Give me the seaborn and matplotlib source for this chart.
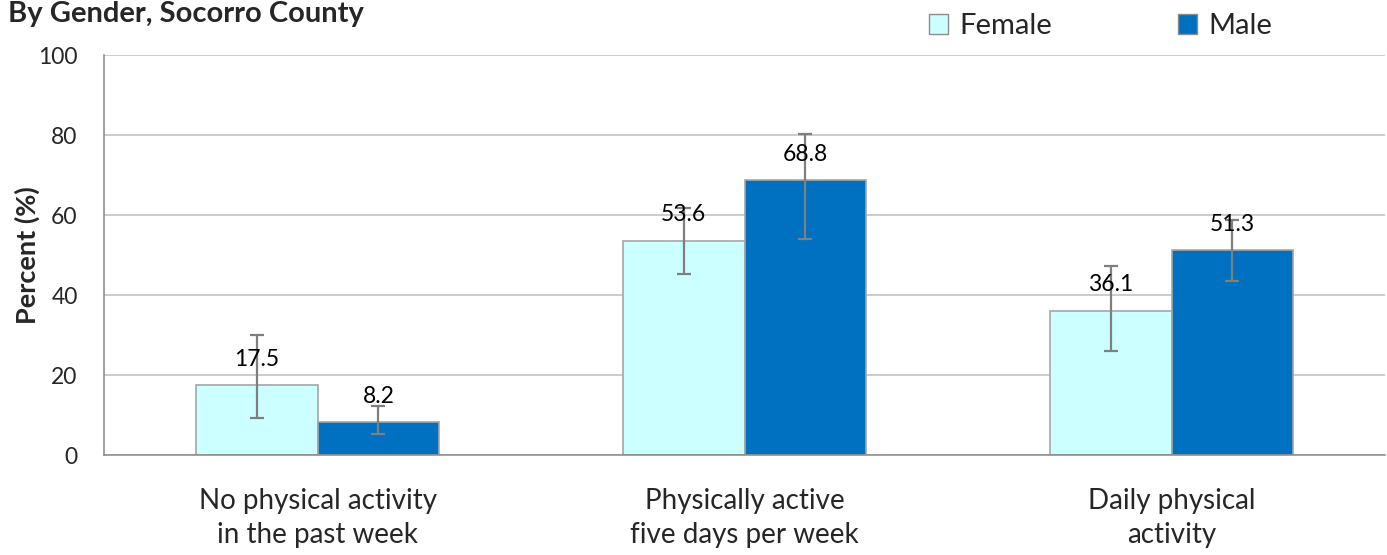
import numpy as np
import pandas as pd
import matplotlib
matplotlib.use("Agg")
import matplotlib.pyplot as plt
import seaborn as sns
from matplotlib.patches import Patch
from matplotlib.ticker import FixedLocator

categories = ["No physical activity\nin the past week",
              "Physically active\nfive days per week",
              "Daily physical\nactivity"]
female = [17.5, 53.6, 36.1]
male = [8.2, 68.8, 51.3]
female_lo = [9.4, 45.3, 26.1]
female_hi = [30.1, 61.7, 47.3]
male_lo = [5.3, 54.0, 43.5]
male_hi = [12.3, 80.4, 58.9]
genders = ["Female", "Male"]
colors = {"Female": "#CCFFFF", "Male": "#0070C0"}

sns.set_style("white")
plt.rcParams["font.family"] = ["Lato", "DejaVu Sans"]

df = pd.DataFrame({
    "category": categories * 2,
    "gender": ["Female"] * 3 + ["Male"] * 3,
    "value": female + male,
    "lo": female_lo + male_lo,
    "hi": female_hi + male_hi,
})

fig = plt.figure(figsize=(13.87, 5.55), dpi=100)
ax = fig.add_axes([0.075, 0.18, 0.9236, 0.7207])

sns.barplot(data=df, x="category", y="value", hue="gender", order=categories,
            hue_order=genders, palette=colors, saturation=1, width=0.57, gap=0,
            edgecolor="#A6A6A6", linewidth=1.2, errorbar=None, legend=False, ax=ax)

# error bars and labels, matched to seaborn's bars
for g_i, g in enumerate(genders):
    cont = ax.containers[g_i]
    sub = df[df.gender == g].set_index("category").loc[categories]
    for bar, (_, row) in zip(cont.patches, sub.iterrows()):
        cx = bar.get_x() + bar.get_width() / 2
        ax.errorbar(cx, row.value,
                    yerr=[[row.value - row.lo], [row.hi - row.value]],
                    fmt="none", ecolor="#7F7F7F", elinewidth=1.6, capsize=5,
                    capthick=1.6, zorder=4)
        ax.annotate(f"{row.value:.1f}", (cx, row.value), xytext=(0, 11),
                    textcoords="offset points", ha="center", va="bottom",
                    fontsize=16.5, color="black", zorder=5)

ax.set_ylim(0, 100)
ax.set_xlim(-0.5, 2.5)
ax.set_yticks([0, 20, 40, 60, 80, 100])
ax.yaxis.grid(True, color="#BFBFBF", linewidth=1.1)
ax.set_axisbelow(True)
ax.set_xlabel("")
ax.set_ylabel("Percent (%)", fontsize=19.5, fontweight="bold", labelpad=-1)

ax.set_xticks([0, 1, 2])
ax.set_xticklabels(categories, fontsize=20, linespacing=1.38)
ax.xaxis.set_minor_locator(FixedLocator([-0.5, 0.5, 1.5, 2.5]))
ax.tick_params(axis="x", which="major", length=0, pad=24)
ax.tick_params(axis="x", which="minor", length=8, width=1, color="#888888", direction="out")
ax.tick_params(axis="y", length=7, width=1, color="#888888", direction="out",
               labelsize=16.5, pad=12)

for side in ["top", "right"]:
    ax.spines[side].set_visible(False)
for side in ["left", "bottom"]:
    ax.spines[side].set_color("#888888")
    ax.spines[side].set_linewidth(1.1)

fig.text(0.006, 0.999, "By Gender, Socorro County", fontsize=21,
         fontweight="bold", va="top", ha="left")

handles = [Patch(facecolor=colors[g], edgecolor="#8C8C8C", label=g) for g in genders]
fig.legend(handles=handles, loc="center left", bbox_to_anchor=(0.651, 0.953),
           ncol=2, frameon=False, fontsize=21, handlelength=0.65,
           handleheight=0.65, handletextpad=0.4, columnspacing=4.3)

fig.savefig("out.png", dpi=100)
